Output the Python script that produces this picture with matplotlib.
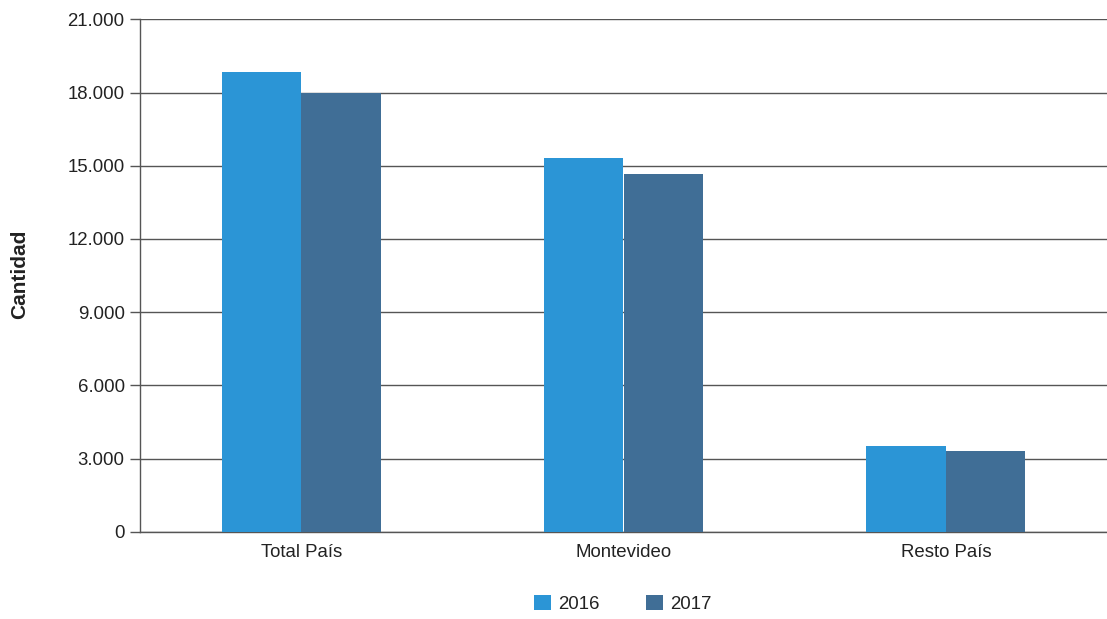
import numpy as np
import matplotlib.pyplot as plt
from matplotlib.patches import Patch

plt.rcParams['font.family'] = ['Liberation Sans', 'DejaVu Sans']

categories = ['Total País', 'Montevideo', 'Resto País']
series_names = ['2016', '2017']
values_2016 = [18840, 15300, 3510]
values_2017 = [17980, 14650, 3310]
y_ticks = [0, 3000, 6000, 9000, 12000, 15000, 18000, 21000]
y_tick_labels = ['0', '3.000', '6.000', '9.000', '12.000', '15.000', '18.000', '21.000']

col_2016 = '#2b95d6'
col_2017 = '#406e96'
grid_col = '#555555'
text_col = '#222222'
fs = 13.4

fig = plt.figure(figsize=(11.07, 6.19), dpi=100)
ax = fig.add_axes([140 / 1107, 1 - 531.7 / 619, (1107 - 140) / 1107, 512.4 / 619])

x = np.arange(len(categories))
w = 0.247
ax.bar(x - w / 2, values_2016, w, color=col_2016, zorder=3)
ax.bar(x + w / 2, values_2017, w, color=col_2017, zorder=3)

ax.set_xlim(-0.5, 2.5)
ax.set_ylim(0, 21000)
ax.set_yticks(y_ticks)
ax.set_yticklabels(y_tick_labels, fontsize=fs, color=text_col)
ax.set_xticks(x)
ax.set_xticklabels(categories, fontsize=fs, color=text_col)
ax.tick_params(axis='x', length=0, pad=9)
ax.tick_params(axis='y', length=7, width=1, color=grid_col, pad=4)

ax.yaxis.grid(True, color=grid_col, linewidth=1, zorder=0)
for side in ['top', 'right']:
    ax.spines[side].set_visible(False)
ax.spines['left'].set_color(grid_col)
ax.spines['bottom'].set_color(grid_col)
ax.spines['left'].set_linewidth(1)
ax.spines['bottom'].set_linewidth(1)

fig.text(20 / 1107, 1 - 274 / 619, 'Cantidad', rotation=90, ha='center', va='center',
         fontsize=15, fontweight='bold', color=text_col)

handles = [Patch(facecolor=col_2016), Patch(facecolor=col_2017)]
fig.legend(handles, series_names, loc='center', bbox_to_anchor=(623 / 1107, 1 - 604 / 619),
           ncol=2, frameon=False, fontsize=fs, handlelength=0.9, handleheight=0.9,
           handletextpad=0.4, columnspacing=2.5, labelcolor=text_col)

fig.savefig('out.png', dpi=100)
